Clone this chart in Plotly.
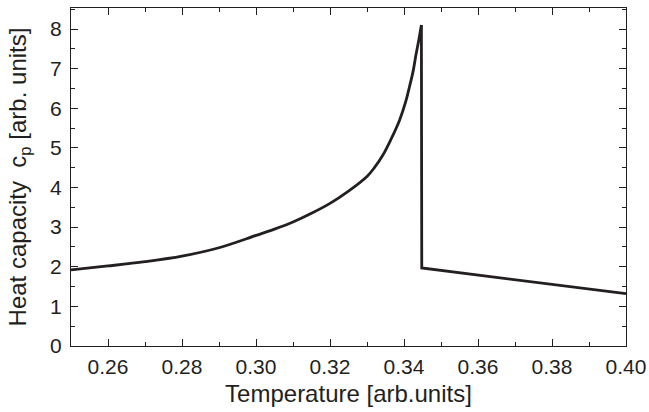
import plotly.graph_objects as go

# Temperature (arb. units) and heat capacity c_p (arb. units)
# branch below the transition (rising towards the peak)
temp_below = [0.250, 0.260, 0.270, 0.280, 0.290, 0.300, 0.305, 0.310, 0.315, 0.320,
              0.325, 0.330, 0.332, 0.3343, 0.3365, 0.3388, 0.3405,
              0.3415, 0.3425, 0.3432, 0.3440, 0.3447]
cp_below = [1.92, 2.02, 2.13, 2.27, 2.48, 2.79, 2.95, 3.13, 3.35, 3.60,
            3.91, 4.28, 4.50, 4.82, 5.22, 5.70, 6.18,
            6.55, 6.95, 7.33, 7.72, 8.10]
# jump at the transition and branch above it
temp_jump = [0.3447, 0.3448, 0.400]
cp_jump = [8.10, 1.97, 1.32]

x_ticks = [0.26, 0.28, 0.30, 0.32, 0.34, 0.36, 0.38, 0.40]
y_ticks = [0, 1, 2, 3, 4, 5, 6, 7, 8]

ink = "#231f20"

fig = go.Figure()
fig.add_trace(go.Scatter(x=temp_below, y=cp_below, mode="lines",
                         line=dict(color=ink, width=2.8, shape="spline", smoothing=1.0),
                         showlegend=False, hoverinfo="skip"))
fig.add_trace(go.Scatter(x=temp_jump, y=cp_jump, mode="lines",
                         line=dict(color=ink, width=2.8),
                         showlegend=False, hoverinfo="skip"))

font = dict(family="Liberation Sans, Arial, sans-serif", size=21, color=ink)

fig.update_layout(
    width=649, height=412,
    margin=dict(l=71, r=23, t=8, b=66),
    paper_bgcolor="white", plot_bgcolor="white",
    font=font,
    xaxis=dict(
        range=[0.25, 0.40], tickvals=x_ticks,
        ticktext=[f"{v:.2f}" for v in x_ticks],
        ticks="inside", ticklen=7, tickwidth=1, tickcolor=ink,
        showline=True, linecolor=ink, linewidth=1.2, mirror="ticks",
        showgrid=False, zeroline=False, automargin=False,
        minor=dict(ticks="inside", dtick=0.01, tick0=0.25, ticklen=4, tickcolor=ink, showgrid=False),
        title=dict(text="Temperature [arb.units]", standoff=7, font=dict(size=24)),
        tickfont=dict(size=21),
        ticklabelstandoff=2,
    ),
    yaxis=dict(
        range=[0, 8.53], tickvals=y_ticks,
        ticks="inside", ticklen=7, tickwidth=1, tickcolor=ink,
        showline=True, linecolor=ink, linewidth=1.2, mirror="ticks",
        showgrid=False, zeroline=False, automargin=False,
        minor=dict(ticks="inside", dtick=0.5, tick0=0, ticklen=4, tickcolor=ink, showgrid=False),
        title=dict(text="Heat capacity  c<sub>p</sub> [arb. units]", standoff=16, font=dict(size=24)),
        tickfont=dict(size=21),
        ticklabelstandoff=4,
    ),
)

fig.write_html("out.html")
